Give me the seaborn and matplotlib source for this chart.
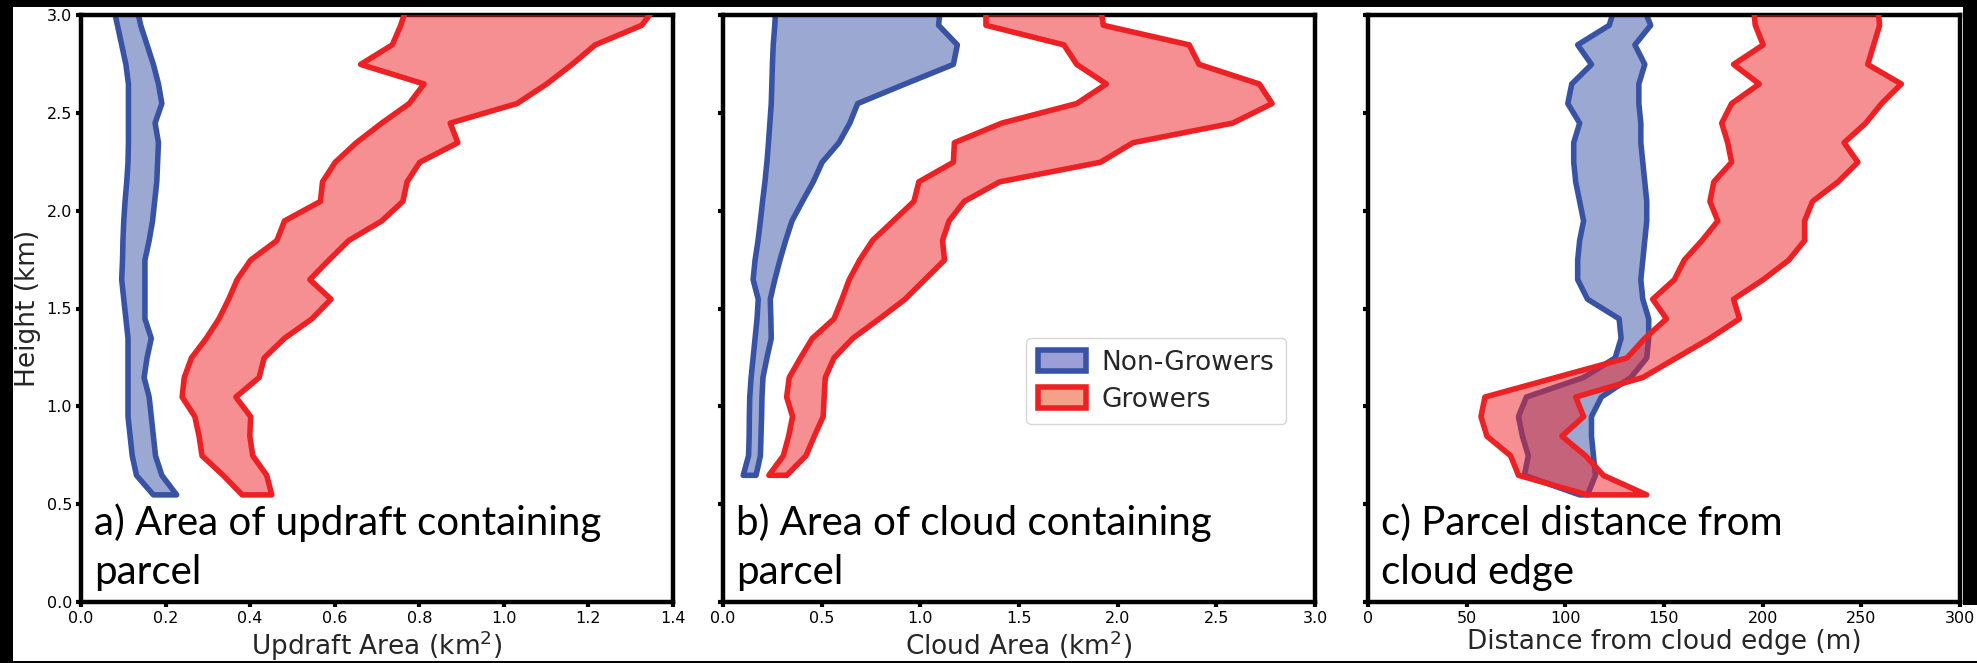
import numpy as np
import matplotlib
matplotlib.use("Agg")
import matplotlib.pyplot as plt
from matplotlib.patches import Patch, Rectangle
import seaborn as sns

# ---------------- data ----------------
height_a = [0.55, 0.65, 0.75, 0.85, 0.95, 1.05, 1.15, 1.25, 1.35, 1.45, 1.55, 1.65, 1.75,
            1.85, 1.95, 2.05, 2.15, 2.25, 2.35, 2.45, 2.55, 2.65, 2.75, 2.85, 2.95, 3.05]
height_b = height_a[1:]
height_c = height_a

# panel a: updraft area (km^2)
upd_non_lo = [0.17, 0.13, 0.12, 0.115, 0.11, 0.11, 0.11, 0.11, 0.11, 0.105, 0.10, 0.095, 0.097,
              0.098, 0.10, 0.103, 0.107, 0.11, 0.111, 0.111, 0.111, 0.111, 0.105, 0.095, 0.085, 0.075]
upd_non_hi = [0.225, 0.19, 0.175, 0.17, 0.165, 0.16, 0.148, 0.155, 0.165, 0.15, 0.15, 0.15, 0.15,
              0.16, 0.168, 0.173, 0.178, 0.18, 0.182, 0.174, 0.19, 0.182, 0.17, 0.155, 0.14, 0.13]
upd_gro_lo = [0.38, 0.335, 0.285, 0.278, 0.268, 0.238, 0.243, 0.26, 0.295, 0.325, 0.348, 0.368, 0.40,
              0.462, 0.48, 0.565, 0.57, 0.60, 0.65, 0.71, 0.775, 0.81, 0.66, 0.735, 0.755, 0.77]
upd_gro_hi = [0.45, 0.438, 0.405, 0.398, 0.40, 0.365, 0.42, 0.432, 0.48, 0.545, 0.59, 0.54, 0.585,
              0.632, 0.71, 0.76, 0.77, 0.80, 0.89, 0.872, 1.03, 1.10, 1.16, 1.215, 1.325, 1.36]

# panel b: cloud area (km^2)
cld_non_lo = [0.10, 0.127, 0.13, 0.131, 0.133, 0.14, 0.15, 0.16, 0.17, 0.176, 0.15, 0.16, 0.175,
              0.187, 0.198, 0.21, 0.22, 0.228, 0.235, 0.242, 0.245, 0.248, 0.252, 0.26, 0.265]
cld_non_hi = [0.165, 0.187, 0.19, 0.193, 0.195, 0.20, 0.22, 0.242, 0.24, 0.237, 0.26, 0.286, 0.315,
              0.347, 0.40, 0.455, 0.50, 0.585, 0.64, 0.68, 0.92, 1.165, 1.185, 1.09, 1.10]
cld_gro_lo = [0.23, 0.303, 0.33, 0.35, 0.32, 0.333, 0.39, 0.45, 0.56, 0.60, 0.637, 0.69, 0.755,
              0.86, 0.965, 0.99, 1.165, 1.17, 1.41, 1.79, 1.94, 1.79, 1.725, 1.33, 1.33]
cld_gro_hi = [0.32, 0.418, 0.46, 0.505, 0.51, 0.516, 0.56, 0.655, 0.79, 0.92, 1.02, 1.12, 1.11,
              1.143, 1.22, 1.40, 1.91, 2.075, 2.58, 2.78, 2.715, 2.41, 2.36, 1.925, 1.91]

# panel c: distance from cloud edge (m)
dst_non_lo = [107, 79, 81, 78, 76, 80, 109, 125, 128, 127, 111, 106, 106,
              107, 109, 107, 105, 104, 104, 107, 101, 103, 113, 106, 122, 125]
dst_non_hi = [111, 115, 114, 113, 113, 118, 133, 141, 142, 142, 139, 138, 139,
              140, 141, 141, 140, 139, 138, 138, 137, 137, 140, 135, 143, 139]
dst_gro_lo = [111, 76, 72, 60, 57, 59, 95, 131, 140, 151, 144, 155, 160,
              169, 177, 173, 175, 184, 182, 179, 184, 198, 185, 200, 196, 195]
dst_gro_hi = [141, 119, 110, 98, 109, 105, 139, 156, 173, 188, 185, 200, 213,
              221, 221, 225, 238, 248, 241, 252, 260, 270, 253, 256, 259, 258]

xlabels = ["Updraft Area (km$^2$)", "Cloud Area (km$^2$)", "Distance from cloud edge (m)"]
panel_titles = ["a) Area of updraft containing\nparcel",
                "b) Area of cloud containing\nparcel",
                "c) Parcel distance from\ncloud edge"]
xlims = [(0, 1.4), (0, 3.0), (0, 300)]
xticks = [np.arange(0, 1.41, 0.2), np.arange(0, 3.01, 0.5), np.arange(0, 301, 50)]
xticklabels = [["0.0", "0.2", "0.4", "0.6", "0.8", "1.0", "1.2", "1.4"],
               ["0.0", "0.5", "1.0", "1.5", "2.0", "2.5", "3.0"],
               ["0", "50", "100", "150", "200", "250", "300"]]
yticks = [0.0, 0.5, 1.0, 1.5, 2.0, 2.5, 3.0]
series_names = ["Non-Growers", "Growers"]

# ---------------- style ----------------
sns.set_theme(style="ticks")
plt.rcParams["font.family"] = ["DejaVu Sans"]

BLUE = "#3953a4"
RED = "#ed2024"
BLUE_FILL = (57/255, 83/255, 164/255, 0.5)
RED_FILL = (237/255, 32/255, 36/255, 0.5)

W, H = 1977, 663
fig = plt.figure(figsize=(W/100, H/100), dpi=100, facecolor="black")
fig.patches.append(Rectangle((13/W, 2/H), (1963-13)/W, (656-2)/H, transform=fig.transFigure,
                             facecolor="white", edgecolor="none", zorder=-10))
fig.patches.append(Rectangle((1960/W, 2/H), (W-1960)/W, 56/H, transform=fig.transFigure,
                             facecolor="white", edgecolor="none", zorder=-10))

lefts = [81, 723, 1368]
ax_w = 592
bottom_px, top_px = 602, 15
axes = []
for l in lefts:
    ax = fig.add_axes([l/W, (H-bottom_px)/H, ax_w/W, (bottom_px-top_px)/H])
    ax.set_facecolor("white")
    axes.append(ax)

data = [
    (height_a, upd_non_lo, upd_non_hi, upd_gro_lo, upd_gro_hi),
    (height_b, cld_non_lo, cld_non_hi, cld_gro_lo, cld_gro_hi),
    (height_c, dst_non_lo, dst_non_hi, dst_gro_lo, dst_gro_hi),
]

for i, ax in enumerate(axes):
    h, nlo, nhi, glo, ghi = data[i]
    ax.fill_betweenx(h, nlo, nhi, facecolor=BLUE_FILL, edgecolor=BLUE, linewidth=4, zorder=2)
    ax.fill_betweenx(h, glo, ghi, facecolor=RED_FILL, edgecolor=RED, linewidth=4, zorder=3)
    ax.set_xlim(*xlims[i])
    ax.set_ylim(0, 3.0)
    ax.set_xticks(xticks[i])
    ax.set_xticklabels(xticklabels[i])
    ax.set_yticks(yticks)
    if i == 0:
        ax.set_yticklabels([f"{v:.1f}" for v in yticks])
        ax.set_ylabel("Height (km)", fontsize=19, labelpad=4)
    else:
        ax.set_yticklabels([])
    ax.set_xlabel(xlabels[i], fontsize=19, labelpad=2)
    ax.tick_params(axis="both", labelsize=11.5, width=3, length=3.5, color="black",
                   labelcolor="black", pad=3)
    for s in ax.spines.values():
        s.set_linewidth(3.2)
        s.set_color("black")
        s.set_visible(True)
    ax.text(0.022, 0.018, panel_titles[i], transform=ax.transAxes, ha="left", va="bottom",
            fontsize=29, family=["Lato", "DejaVu Sans"], color="black", linespacing=1.42,
            zorder=5)

handles = [Patch(facecolor="#9b9fd5", edgecolor=BLUE, linewidth=4, label=series_names[0]),
           Patch(facecolor="#f5a088", edgecolor=RED, linewidth=4, label=series_names[1])]
axes[1].legend(handles=handles, loc="upper left", bbox_to_anchor=(0.49, 0.472),
               fontsize=19, frameon=True, handlelength=1.8, handleheight=0.85,
               borderpad=0.45, labelspacing=0.4, handletextpad=0.6)

fig.savefig("out.png", dpi=100, facecolor=fig.get_facecolor())
